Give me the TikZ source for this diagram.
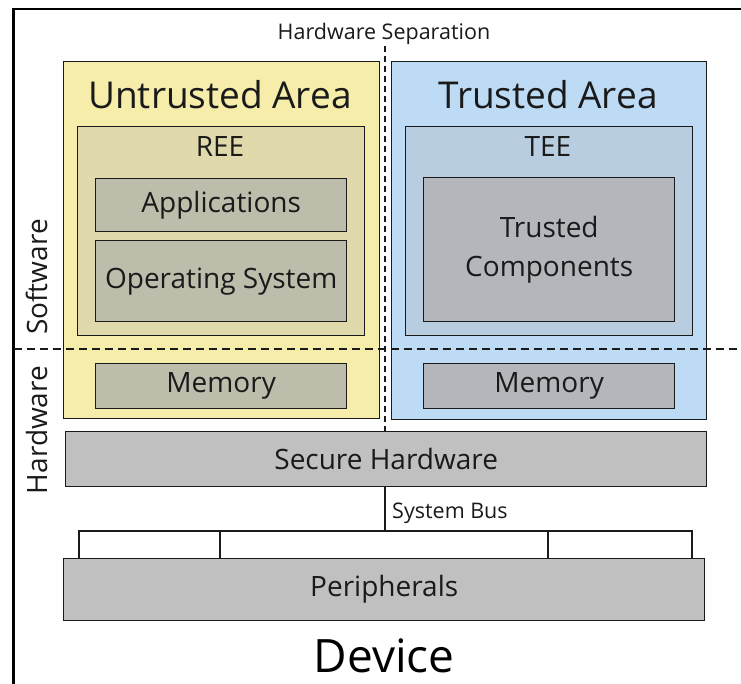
\documentclass[tikz,border=0pt]{standalone}
\usepackage{fontspec}
\setmainfont{Open Sans}
\definecolor{untrustedfill}{HTML}{F6EDAA}
\definecolor{reefill}{HTML}{E0D9AB}
\definecolor{reeinner}{HTML}{BEBDAC}
\definecolor{trustedfill}{HTML}{BEDBF5}
\definecolor{teefill}{HTML}{B9CDE1}
\definecolor{teeinner}{HTML}{B3B7BC}
\definecolor{hwfill}{HTML}{C0C0C0}
\definecolor{ink}{HTML}{1A1A1A}
\begin{document}
\begin{tikzpicture}[x=1pt,y=-1pt,
  box/.style={draw=ink, line width=1.4pt, inner sep=0pt, anchor=north west, text=ink, align=center},
  bigtxt/.style={font=\fontsize{37}{40}\selectfont, text=ink, inner sep=0pt},
  midtxt/.style={font=\fontsize{28}{39}\selectfont},
  smalltxt/.style={font=\fontsize{21.5}{24}\selectfont, text=ink, inner sep=0pt},
  sidetxt/.style={font=\fontsize{28}{30}\selectfont, text=ink, rotate=90, inner sep=0pt},
  wire/.style={draw=ink, line width=1.4pt},
  sepline/.style={draw=ink, line width=1.3pt, dash pattern=on 8pt off 5pt},
  frameline/.style={draw=black, line width=2.4pt}
]
\useasboundingbox (0,0) rectangle (741,684);

% outer frame (top and left edges)
\coordinate (frTL) at (13.5,9);
\coordinate (frTR) at (741,9);
\coordinate (frBL) at (13.5,684);
\draw[frameline] (frTR) -- (frTL) -- (frBL);

% untrusted side
\node[box, fill=untrustedfill, minimum width=316pt, minimum height=357pt] (ua) at (63,61) {};
\node[bigtxt] (uaL) at (220,95) {Untrusted Area};
\node[box, fill=reefill, minimum width=287pt, minimum height=209pt] (ree) at (77,126) {};
\node[midtxt, text=ink, inner sep=0pt] (reeL) at (220,147) {REE};
\node[box, fill=reeinner, minimum width=251pt, minimum height=53pt, midtxt] (apps) at (95,178) {Applications};
\node[box, fill=reeinner, minimum width=251pt, minimum height=81pt, midtxt] (os) at (95,240) {Operating System};
\node[box, fill=reeinner, minimum width=251pt, minimum height=45pt, midtxt] (memU) at (95,363) {Memory};

% trusted side
\node[box, fill=trustedfill, minimum width=315pt, minimum height=358pt] (ta) at (391,61) {};
\node[bigtxt] (taL) at (548,95) {Trusted Area};
\node[box, fill=teefill, minimum width=287pt, minimum height=209pt] (tee) at (405,126) {};
\node[midtxt, text=ink, inner sep=0pt] (teeL) at (548,147) {TEE};
\node[box, fill=teeinner, minimum width=251pt, minimum height=144pt, midtxt] (tc) at (423,177) {Trusted\\Components};
\node[box, fill=teeinner, minimum width=251pt, minimum height=45pt, midtxt] (memT) at (423,363) {Memory};

% shared hardware
\node[box, fill=hwfill, minimum width=641pt, minimum height=55pt, midtxt] (sechw) at (65,431) {Secure Hardware};
\node[box, fill=hwfill, minimum width=641pt, minimum height=62pt, midtxt] (periph) at (63,558) {Peripherals};

% system bus
\coordinate (busC) at (385,531);
\coordinate (bus1) at (79,531);
\coordinate (bus2) at (220,531);
\coordinate (bus3) at (548,531);
\coordinate (bus4) at (692,531);
\draw[wire] (busC |- sechw.south) -- (busC);
\draw[wire] (bus1 |- periph.north) -- (bus1) -- (bus4) -- (bus4 |- periph.north);
\draw[wire] (bus2) -- (bus2 |- periph.north);
\draw[wire] (bus3) -- (bus3 |- periph.north);
\node[smalltxt, anchor=west] (busL) at (392,513) {System Bus};

% software / hardware split
\coordinate (swhwL) at (13.5,349);
\coordinate (swhwR) at (737,349);
\draw[sepline] (swhwL) -- (swhwR);
\node[sidetxt] (swL) at (37,277) {Software};
\node[sidetxt] (hwL) at (37,430) {Hardware};

% hardware separation
\coordinate (sepTop) at (385,46);
\draw[draw=ink, line width=1.5pt, dash pattern=on 6pt off 4pt] (sepTop) -- (sepTop |- sechw.north);
\node[smalltxt] (sepL) at (384,34) {Hardware Separation};

% device caption
\node[font=\fontsize{46}{48}\selectfont, text=black, inner sep=0pt] (dev) at (384,656) {Device};
\end{tikzpicture}
\end{document}
